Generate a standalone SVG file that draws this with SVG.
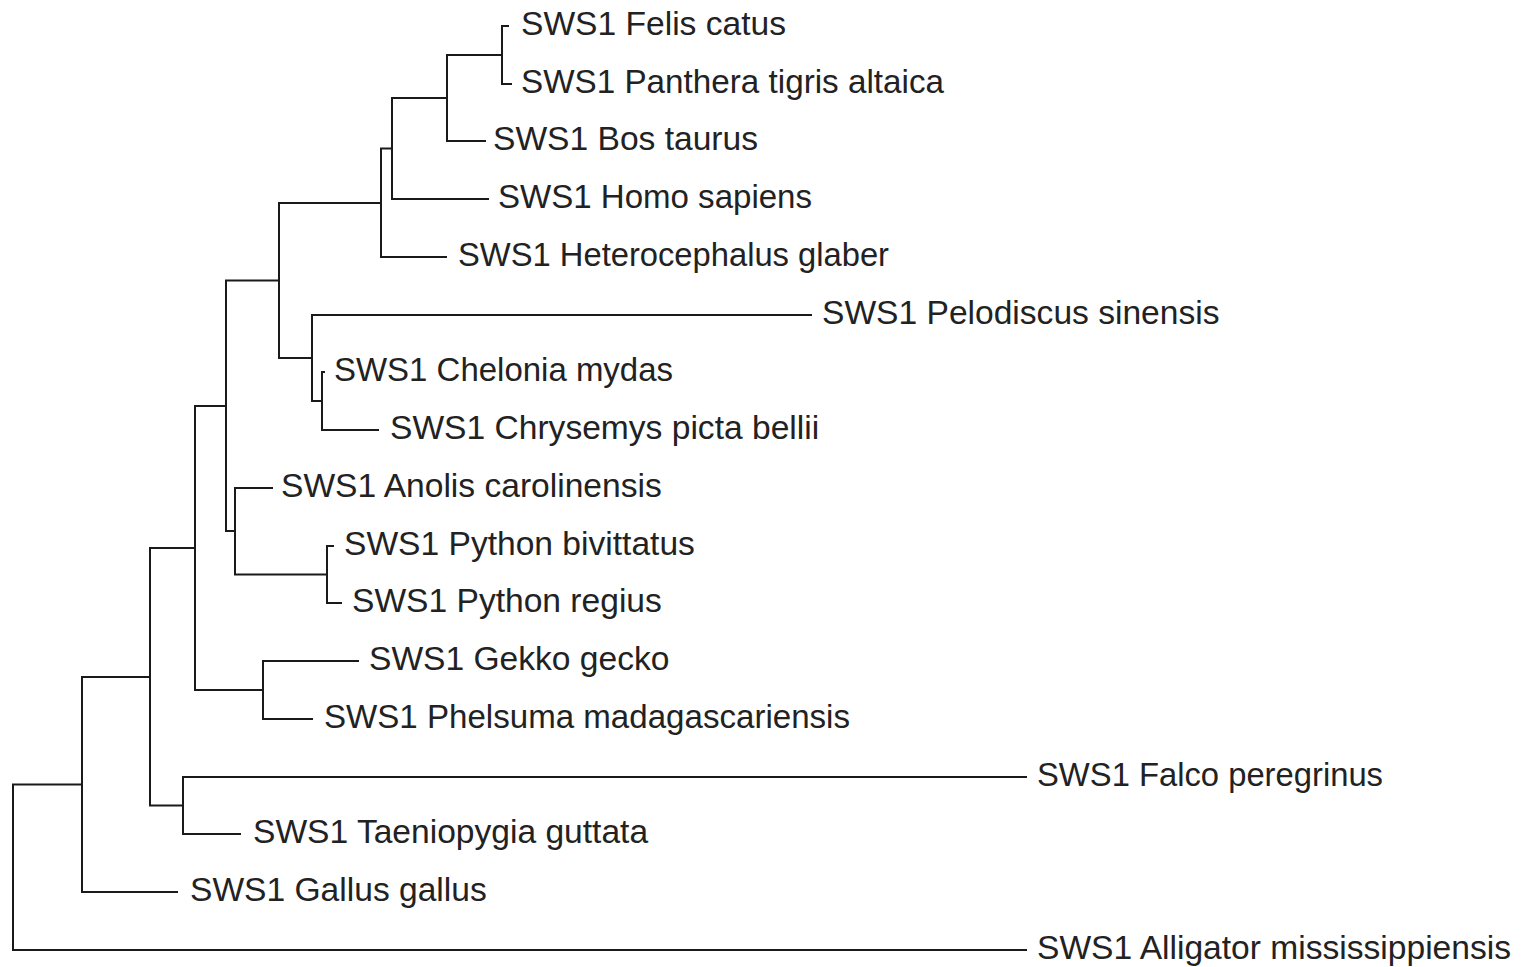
<svg xmlns="http://www.w3.org/2000/svg" width="1522" height="967" viewBox="0 0 1522 967">
<style>
.b{fill:none;stroke:#1a1a1a;stroke-width:2;stroke-linecap:square}
.t{font-family:"Liberation Sans",Arial,sans-serif;font-size:33.6px;fill:#222}
</style>
<rect width="1522" height="967" fill="#fff"/>
<g id="connectors">
<path class="b" d="M508 26 H502 V84 H511"/>
<path class="b" d="M502 55 H447 V141 H485"/>
<path class="b" d="M447 98 H392 V199 H488"/>
<path class="b" d="M392 148.5 H381 V257 H446"/>
<path class="b" d="M324 372 H322 V430 H378"/>
<path class="b" d="M811 315 H312 V401 H322"/>
<path class="b" d="M381 203 H279 V358 H312"/>
<path class="b" d="M333 546 H327 V603 H341"/>
<path class="b" d="M272 488 H235 V574.5 H327"/>
<path class="b" d="M279 280.5 H226 V531 H235"/>
<path class="b" d="M358 661 H263 V719 H312"/>
<path class="b" d="M226 406 H195 V690 H263"/>
<path class="b" d="M1026 777 H183 V834 H240"/>
<path class="b" d="M195 548 H150 V805.5 H183"/>
<path class="b" d="M150 677 H82 V892 H177"/>
<path class="b" d="M82 784.5 H13 V950 H1026"/>
</g>
<g id="n-felis"><text class="t" x="521" y="35">SWS1 Felis catus</text></g>
<g id="n-panthera"><text class="t" x="521" y="93" textLength="423" lengthAdjust="spacingAndGlyphs">SWS1 Panthera tigris altaica</text></g>
<g id="n-bos"><text class="t" x="493" y="150">SWS1 Bos taurus</text></g>
<g id="n-homo"><text class="t" x="498" y="208" textLength="314" lengthAdjust="spacingAndGlyphs">SWS1 Homo sapiens</text></g>
<g id="n-hetero"><text class="t" x="458" y="266" textLength="431" lengthAdjust="spacingAndGlyphs">SWS1 Heterocephalus glaber</text></g>
<g id="n-pelodiscus"><text class="t" x="822" y="324">SWS1 Pelodiscus sinensis</text></g>
<g id="n-chelonia"><text class="t" x="334" y="381" textLength="339" lengthAdjust="spacingAndGlyphs">SWS1 Chelonia mydas</text></g>
<g id="n-chrysemys"><text class="t" x="390" y="439">SWS1 Chrysemys picta bellii</text></g>
<g id="n-anolis"><text class="t" x="281" y="497">SWS1 Anolis carolinensis</text></g>
<g id="n-pbiv"><text class="t" x="344" y="555">SWS1 Python bivittatus</text></g>
<g id="n-preg"><text class="t" x="352" y="612">SWS1 Python regius</text></g>
<g id="n-gekko"><text class="t" x="369" y="670">SWS1 Gekko gecko</text></g>
<g id="n-phelsuma"><text class="t" x="324" y="728" textLength="526" lengthAdjust="spacingAndGlyphs">SWS1 Phelsuma madagascariensis</text></g>
<g id="n-falco"><text class="t" x="1037" y="786" textLength="346" lengthAdjust="spacingAndGlyphs">SWS1 Falco peregrinus</text></g>
<g id="n-taenio"><text class="t" x="253" y="843">SWS1 Taeniopygia guttata</text></g>
<g id="n-gallus"><text class="t" x="190" y="901">SWS1 Gallus gallus</text></g>
<g id="n-alligator"><text class="t" x="1037" y="959">SWS1 Alligator mississippiensis</text></g>
</svg>
